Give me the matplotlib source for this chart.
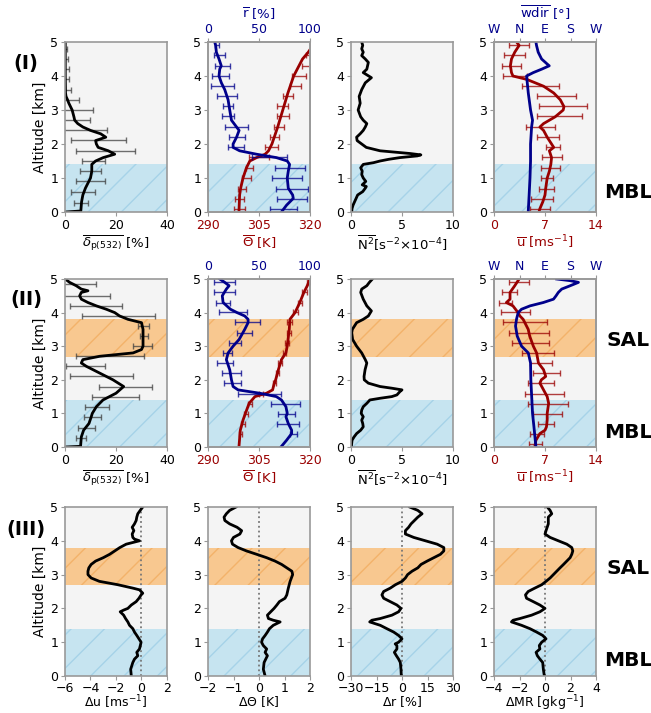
import numpy as np
import matplotlib.pyplot as plt

# ---------------- data (altitude in km) ----------------
# row I : depolarisation
dep1_alt = [0, 0.03, 0.3, 0.5, 0.7, 1.0, 1.2, 1.4, 1.5, 1.6, 1.7, 1.8, 1.9, 2.0, 2.1, 2.2, 2.3, 2.4, 2.5, 2.6,
            2.7, 2.8, 3.0, 3.2, 3.3, 3.4, 3.5, 4.0, 4.5, 5.0]
dep1 = [0.3, 6.2, 6.5, 7.0, 8.0, 10.0, 10.5, 10.5, 12.0, 15.0, 19.5, 17.0, 13.0, 12.3, 12.0, 16.0, 14.0, 10.0, 7.0, 5.0,
        3.8, 3.5, 2.8, 1.5, 1.0, 0.4, 0.2, 0.1, 0.1, 0.1]
dep1e_alt = [0.27, 0.59, 0.91, 1.2, 1.5, 1.8, 2.12, 2.42, 2.7, 3.0, 3.3, 3.6, 3.9, 4.2, 4.5, 4.8]
dep1e_mid = [6.3, 7.0, 10.0, 10.0, 11.0, 16.0, 13.0, 8.0, 3.8, 2.8, 1.0, 0.3, 0.1, 0.1, 0.1, 0.1]
dep1e = [2.8, 4.7, 5.5, 4.0, 4.5, 11.5, 10.8, 8.5, 6.0, 8.0, 4.5, 2.0, 1.5, 1.5, 1.0, 0.8]

# row I : potential temperature and relative humidity
th1_alt = [0, 0.5, 0.7, 1.0, 1.3, 1.5, 1.6, 1.7, 1.8, 2.0, 2.5, 3.0, 3.5, 4.0, 4.5, 4.7, 5.0]
th1 = [299.1, 299.3, 299.6, 300.3, 301.3, 302.3, 304.3, 306.8, 307.8, 308.8, 310.5, 312.0, 313.5, 315.2, 317.8, 319.5, 321.5]
r1_alt = [0, 0.2, 0.4, 0.5, 0.7, 1.0, 1.2, 1.4, 1.5, 1.6, 1.7, 1.8, 1.9, 2.0, 2.2, 2.4, 2.5, 2.7, 3.0, 3.3,
          3.6, 3.8, 4.0, 4.2, 4.3, 4.5, 4.7, 4.9, 5.0]
r1 = [72, 77, 83.6, 83, 78.7, 77.7, 78.7, 80, 77.7, 67, 47.5, 31, 24.6, 24.6, 28, 30.5, 28, 23, 21.3, 19.7,
      16.4, 13.1, 10.8, 11.5, 13, 10.8, 8.2, 7.5, 6.6]
e1_alt = [0.09, 0.38, 0.69, 1.0, 1.3, 1.61, 1.92, 2.21, 2.5, 2.82, 3.11, 3.41, 3.71, 4.0, 4.3, 4.62, 4.92]
r1e_mid = [74, 82.5, 82.5, 77.5, 80.5, 60, 27.5, 28.5, 28, 19.5, 19.5, 18.7, 14, 12.3, 14, 11.7, 8.7]
r1e = [13, 15, 15.5, 14.5, 14.5, 17, 8, 8, 11.5, 5.7, 5.2, 9.8, 11.3, 8.5, 7.2, 5.4, 2]
th1e_mid = [299.3, 299.3, 300.0, 301.3, 302.3, 305.0, 308.6, 309.6, 310.9, 312.0, 312.0, 313.5, 315.7, 316.7, 318.8, 319.6, 321.0]
th1e = [1.6, 1.3, 1.2, 1.2, 1.0, 3.0, 1.9, 1.4, 1.4, 1.8, 1.6, 1.4, 1.6, 2.0, 1.2, 0.9, 0.8]

# row I : N^2
n1_alt = [0, 0.1, 0.2, 0.4, 0.5, 0.6, 0.7, 0.75, 0.8, 0.9, 1.0, 1.1, 1.2, 1.3, 1.4, 1.45, 1.5, 1.55, 1.6, 1.65,
          1.68, 1.72, 1.8, 1.9, 2.0, 2.1, 2.2, 2.3, 2.4, 2.5, 2.6, 2.7, 2.8, 3.0, 3.2, 3.4, 3.6, 3.8, 3.95, 4.1,
          4.2, 4.4, 4.5, 4.6, 4.7, 4.8, 4.9, 5.0]
n1 = [0.07, 0.1, 0.2, 0.5, 0.65, 1.15, 1.4, 1.5, 1.1, 1.45, 1.2, 1.05, 1.1, 0.95, 1.2, 2.2, 2.85, 3.7, 4.8, 6.5,
      6.85, 5.8, 2.85, 1.5, 1.05, 0.6, 0.55, 0.9, 1.2, 1.4, 1.55, 1.2, 0.95, 0.7, 0.9, 0.8, 1.05, 1.4, 2.0, 1.2,
      1.55, 1.7, 1.4, 1.05, 1.2, 1.05, 1.15, 1.05]

# row I : wind speed and direction
u1_alt = [0, 0.1, 0.3, 0.5, 0.7, 1.0, 1.2, 1.4, 1.6, 1.8, 1.9, 2.0, 2.2, 2.4, 2.5, 2.6, 2.8, 3.0, 3.1, 3.3,
          3.5, 3.7, 3.9, 4.0, 4.1, 4.3, 4.5, 4.7, 4.9, 5.0]
u1 = [6.17, 6.3, 6.7, 7.0, 7.1, 7.3, 7.6, 7.8, 7.9, 7.6, 8.2, 7.9, 7.3, 6.8, 6.3, 6.8, 8.4, 9.5, 9.6, 9.1,
      8.2, 6.8, 4.5, 2.6, 2.4, 2.25, 2.4, 2.85, 3.45, 3.1]
u1e_mid = [6.35, 6.6, 7.2, 7.3, 7.8, 8.0, 8.1, 7.4, 6.35, 9.0, 9.5, 8.6, 6.4, 2.9, 2.4, 2.8, 3.45]
u1e = [1.35, 1.55, 1.0, 0.8, 1.3, 1.35, 1.0, 1.55, 2.0, 3.1, 3.3, 2.7, 2.5, 1.6, 1.3, 1.4, 1.35]
wd1_alt = [0, 0.5, 1.0, 1.5, 2.0, 2.5, 2.7, 3.0, 3.5, 4.0, 4.1, 4.2, 4.3, 4.35, 4.5, 4.7, 4.9, 5.0]
wd1 = [30.8, 34, 37, 39, 39, 42.7, 46, 39, 31, 25, 48.6, 78, 105, 98, 78, 66, 60, 58]

# row II : depolarisation
dep2_alt = [0, 0.02, 0.3, 0.5, 0.7, 0.9, 1.0, 1.2, 1.4, 1.6, 1.8, 2.0, 2.2, 2.4, 2.5, 2.6, 2.7, 2.8, 2.9, 3.0,
            3.5, 3.7, 3.8, 3.9, 4.0, 4.1, 4.2, 4.3, 4.4, 4.5, 4.6, 4.65, 4.7, 4.8, 4.9, 5.0]
dep2 = [0.3, 6.1, 6.4, 7.3, 9.4, 10.3, 10.7, 12.3, 14.9, 20, 23, 18.8, 13.6, 8.4, 6.4, 7, 13.6, 26.7, 30, 30.6,
        30.6, 30, 24.7, 21.4, 19.5, 16.2, 12.3, 9, 6.4, 5.75, 6.4, 9, 6.4, 4.4, 1.8, 0.1]
dep2e_alt = [0.28, 0.58, 0.89, 1.2, 1.5, 1.79, 2.1, 2.4, 2.7, 3.0, 3.29, 3.59, 3.9, 4.2, 4.5, 4.86]
dep2e_mid = [6.3, 8.5, 10.8, 12.4, 19.8, 23.8, 14.2, 8.0, 17.5, 30.5, 30.9, 30.8, 21.1, 12.3, 5.75, 3.0]
dep2e = [1.85, 3.4, 3.5, 4.7, 9.3, 10.5, 12.4, 7.8, 13.3, 3.8, 1.6, 2.2, 14.3, 10.2, 11.75, 9.3]

# row II : potential temperature and relative humidity
th2_alt = [0, 0.5, 0.8, 1.0, 1.3, 1.5, 1.6, 1.7, 1.9, 2.0, 2.3, 2.6, 2.8, 3.0, 3.5, 3.8, 4.0, 4.3, 4.6, 4.8, 5.0]
th2 = [299.1, 299.5, 300.3, 301.0, 302.1, 303.8, 307.2, 309.0, 309.5, 309.9, 310.7, 311.6, 312.9, 313.3, 313.9,
       314.1, 315.6, 317.0, 318.2, 319.2, 320.0]
r2_alt = [0, 0.2, 0.4, 0.5, 0.7, 0.9, 1.0, 1.2, 1.4, 1.5, 1.6, 1.7, 1.8, 2.0, 2.3, 2.6, 2.8, 3.0, 3.2, 3.5,
          3.7, 3.8, 3.9, 4.0, 4.1, 4.3, 4.5, 4.7, 4.8, 4.9, 5.0]
r2 = [71.5, 77, 82, 82, 78.7, 76.4, 77.7, 76.4, 72, 67, 50.8, 29.5, 24.6, 23, 21.3, 18, 19.7, 24.6, 30.5, 36,
      39.3, 39.3, 36, 28.5, 22, 14.8, 14, 18, 20.7, 16.4, 11.5]
e2_alt = [0.4, 0.69, 0.99, 1.29, 1.58, 1.89, 2.19, 2.5, 2.79, 3.1, 3.4, 3.71, 4.01, 4.3, 4.6, 4.9]
r2e_mid = [84, 78.7, 77, 76, 50.8, 24, 23.3, 17, 19.3, 26.7, 36, 38.8, 24.3, 14.8, 16, 16]
r2e = [3.7, 10.8, 8, 14.6, 21, 8.2, 9.5, 7.7, 4.6, 6.1, 7.5, 12.6, 13.5, 7.2, 10.2, 10]
th2e_mid = [299.6, 300.3, 301.2, 302.4, 305.5, 309.6, 310.4, 311.2, 312.6, 313.2, 313.7, 314.0, 315.7, 317.0, 318.3, 319.5]
th2e = [0.4, 0.5, 0.5, 0.6, 0.6, 0.5, 0.4, 0.5, 0.4, 0.6, 0.6, 0.7, 0.7, 0.6, 0.8, 0.5]

# row II : N^2
n2_alt = [0, 0.2, 0.3, 0.4, 0.5, 0.6, 0.7, 0.8, 0.9, 1.0, 1.1, 1.2, 1.3, 1.4, 1.45, 1.5, 1.55, 1.6, 1.65, 1.7,
          1.75, 1.8, 1.9, 2.0, 2.1, 2.3, 2.5, 2.6, 2.8, 3.0, 3.2, 3.4, 3.5, 3.7, 3.8, 3.9, 4.05, 4.2, 4.4, 4.6,
          4.7, 4.8, 4.9, 5.0]
n2 = [0.03, 0.1, 0.3, 0.55, 0.95, 1.2, 1.15, 1.05, 1.2, 1.0, 1.05, 1.2, 1.55, 1.85, 2.85, 4.0, 4.5, 4.65, 4.8, 5.0,
      4.0, 2.85, 1.7, 1.3, 1.28, 1.38, 1.55, 1.4, 1.05, 0.55, 0.16, 0.07, 0.13, 0.55, 1.2, 1.7, 2.0, 1.55, 1.2, 0.95,
      1.05, 1.55, 1.8, 2.1]

# row II : wind speed and direction
u2_alt = [0, 0.2, 0.4, 0.5, 0.6, 0.8, 1.0, 1.3, 1.5, 1.7, 1.9, 2.0, 2.1, 2.3, 2.5, 2.8, 3.0, 3.3, 3.5, 3.8,
          3.9, 4.0, 4.2, 4.3, 4.4, 4.6, 4.8, 5.0]
u2 = [5.6, 5.75, 6.3, 7.0, 7.2, 7.3, 7.3, 7.5, 7.3, 6.8, 6.3, 6.5, 7.1, 6.8, 6.1, 5.85, 5.4, 4.9, 4.7, 4.0,
      3.55, 3.3, 2.6, 1.7, 2.2, 2.2, 2.85, 3.45]
u2e_alt = [0.09, 0.4, 0.69, 0.99, 1.29, 1.58, 1.89, 2.19, 2.5, 2.79, 3.1, 3.4, 3.71, 4.01, 4.3, 4.6, 4.9]
u2e_mid = [5.65, 5.85, 7.1, 7.35, 7.4, 6.9, 6.45, 7.2, 6.5, 6.1, 5.0, 4.8, 4.25, 2.9, 1.6, 2.1, 3.45]
u2e = [0.9, 0.95, 1.1, 2.05, 2.8, 2.65, 1.85, 1.9, 1.5, 2.2, 2.5, 2.7, 3.0, 2.0, 0.9, 1.0, 1.4]
wd2_alt = [0, 0.3, 0.6, 1.0, 1.5, 2.0, 2.5, 2.8, 3.0, 3.3, 3.6, 3.8, 4.0, 4.1, 4.2, 4.3, 4.4, 4.5, 4.6, 4.7,
           4.8, 4.9, 4.95, 5.0]
wd2 = [58, 54.5, 51, 46, 43, 40, 39, 31, 7.3, -8, -14, -10.6, -4.7, 7, 37, 84, 120, 129, 137, 149,
       179, 208, 179, 131]

# row III : differences
du_alt = [0, 0.2, 0.4, 0.5, 0.6, 0.7, 0.8, 1.0, 1.1, 1.2, 1.3, 1.4, 1.5, 1.6, 1.7, 1.8, 1.9, 1.95, 2.0, 2.1,
          2.2, 2.3, 2.4, 2.45, 2.55, 2.6, 2.7, 2.8, 2.9, 3.0, 3.1, 3.2, 3.3, 3.4, 3.5, 3.6, 3.7, 3.8, 3.9, 4.0,
          4.05, 4.1, 4.2, 4.3, 4.4, 4.5, 4.6, 4.7, 4.8, 4.9, 5.0]
du = [-0.8, -0.85, -0.68, -0.55, -0.29, -0.37, -0.16, -0.03, -0.2, -0.37, -0.55, -0.68, -0.94, -1.07, -1.25, -1.4,
      -1.67, -1.4, -1.07, -0.8, -0.42, -0.2, -0.03, 0.1, -0.16, -0.68, -1.85, -3.3, -3.95, -4.2, -4.2, -4.13, -3.95,
      -3.6, -3.0, -2.5, -2.1, -1.7, -1.2, -0.16, -0.55, -0.68, -0.73, -0.6, -0.73, -0.55, -0.42, -0.37, -0.29, -0.1, 0.1]
dth_alt = [0, 0.2, 0.4, 0.6, 0.7, 0.8, 0.9, 1.0, 1.1, 1.2, 1.3, 1.4, 1.5, 1.6, 1.65, 1.7, 1.8, 1.9, 2.0, 2.1,
           2.2, 2.3, 2.4, 2.6, 2.8, 3.0, 3.1, 3.2, 3.3, 3.4, 3.5, 3.6, 3.7, 3.8, 3.9, 4.0, 4.1, 4.2, 4.3, 4.4,
           4.5, 4.6, 4.7, 4.8, 4.9, 5.0]
dth = [0.24, 0.17, 0.2, 0.33, 0.24, 0.3, 0.17, 0.1, 0.14, 0.24, 0.33, 0.41, 0.56, 0.83, 0.56, 0.37, 0.33, 0.46, 0.59,
       0.7, 0.8, 1.02, 1.09, 1.15, 1.22, 1.32, 1.29, 1.09, 0.89, 0.63, 0.3, -0.09, -0.49, -0.82, -1.04, -1.08, -1.0,
       -0.75, -0.68, -0.86, -1.15, -1.34, -1.37, -1.28, -1.15, -0.9]
dr_alt = [0, 0.2, 0.4, 0.5, 0.6, 0.7, 0.8, 0.9, 0.95, 1.0, 1.1, 1.2, 1.3, 1.4, 1.5, 1.6, 1.65, 1.7, 1.8, 1.9,
          2.0, 2.1, 2.2, 2.3, 2.4, 2.5, 2.6, 2.7, 2.8, 2.9, 3.0, 3.1, 3.2, 3.3, 3.4, 3.5, 3.6, 3.7, 3.8, 3.9,
          4.0, 4.1, 4.2, 4.3, 4.4, 4.5, 4.6, 4.7, 4.8, 4.9, 5.0]
dr = [-0.4, -0.6, -1, -2, -3.3, -4.5, -3, -3, -4, -2, 0, -2, -4.9, -8.9, -12.8, -19, -17.7, -12.8, -5.9, -2,
      -0.6, -3, -6.9, -10.8, -11.8, -10.8, -6.9, -3.9, 0, 2, 3.3, 5.9, 9.3, 11.2, 14.8, 18.7, 22.6, 24.6, 24.6, 20.7,
      13.8, 6.9, 2, 2, 3.9, 5.3, 7.3, 9.3, 11.8, 9.3, 4.5]
dmr_alt = [0, 0.2, 0.4, 0.5, 0.6, 0.7, 0.8, 0.9, 1.0, 1.1, 1.2, 1.3, 1.4, 1.5, 1.6, 1.65, 1.7, 1.8, 1.9, 2.0,
           2.1, 2.2, 2.3, 2.4, 2.5, 2.6, 2.7, 2.8, 2.9, 3.0, 3.1, 3.2, 3.3, 3.4, 3.5, 3.6, 3.7, 3.8, 3.9, 4.0,
           4.1, 4.2, 4.3, 4.5, 4.7, 4.8, 4.9, 5.0]
dmr = [-0.05, -0.13, -0.18, -0.4, -0.6, -0.7, -0.4, -0.45, -0.26, 0.08, -0.18, -0.66, -1.18, -1.84, -2.63, -2.5,
       -1.97, -1.05, -0.4, 0, -0.4, -0.92, -1.45, -1.53, -1.32, -0.8, -0.26, 0.08, 0.4, 0.66, 0.92, 1.18, 1.45, 1.71,
       1.97, 2.1, 2.18, 2.1, 1.71, 1.05, 0.4, 0, 0.08, 0.26, 0.26, 0.53, 0.4, 0.18]

MBL = (0, 1.4)
SAL = (2.68, 3.8)

RED = '#990000'
BLUE = '#00008b'
GREY = '#999999'

fig = plt.figure(figsize=(6.51, 7.13), dpi=100)
W, H = 651, 713


def panel(left, top, bottom, sal=False):
    ax = fig.add_axes([left / W, 1 - bottom / H, 102 / W, (bottom - top) / H])
    ax.set_facecolor('#f4f4f4')
    ax.set_ylim(0, 5)
    ax.set_yticks(range(6))
    ax.axhspan(*MBL, facecolor='#c6e4f0', edgecolor='#a6d3e8', hatch='/', lw=0, zorder=0)
    if sal:
        ax.axhspan(*SAL, facecolor='#f8c890', edgecolor='#f3b26a', hatch='/', lw=0, zorder=0)
    for s in ax.spines.values():
        s.set_color(GREY)
        s.set_linewidth(1.2)
    ax.tick_params(color=GREY, labelsize=9, length=3, pad=2)
    return ax


def twin_top(ax, lim, ticks, labels=None):
    t = ax.twiny()
    t.set_xlim(*lim)
    t.set_xticks(ticks)
    if labels is not None:
        t.set_xticklabels(labels)
    t.tick_params(color=GREY, labelsize=9, length=3, pad=1, labelcolor=BLUE)
    for s in t.spines.values():
        s.set_color(GREY)
        s.set_linewidth(1.2)
    return t


def ebar(ax, mid, alt, err, col):
    ax.errorbar(mid, alt, xerr=err, fmt='none', ecolor=col, elinewidth=1.0,
                capsize=2, capthick=1.0, alpha=0.75)


lefts = [65, 208, 351, 494]
rows = [(42, 212), (279, 447), (507, 676)]
lab_dep = r'$\overline{\delta_{\mathrm{p(532)}}}$ [%]'
lab_th = r'$\overline{\Theta}$ [K]'
lab_n2 = r'$\overline{\mathrm{N}^2}$[s$^{-2}$$\times$10$^{-4}$]'
lab_u = r'$\overline{\mathrm{u}}$ [ms$^{-1}$]'

profiles = [
    (dep1_alt, dep1, dep1e_alt, dep1e_mid, dep1e, th1_alt, th1, r1_alt, r1, e1_alt, th1e_mid, th1e, r1e_mid, r1e,
     n1_alt, n1, u1_alt, u1, e1_alt, u1e_mid, u1e, wd1_alt, wd1, False),
    (dep2_alt, dep2, dep2e_alt, dep2e_mid, dep2e, th2_alt, th2, r2_alt, r2, e2_alt, th2e_mid, th2e, r2e_mid, r2e,
     n2_alt, n2, u2_alt, u2, u2e_alt, u2e_mid, u2e, wd2_alt, wd2, True),
]

for i, p in enumerate(profiles):
    (da, dv, dea, dem, de, ta, tv, ra, rv, ea, tem, te, rem, re_,
     na, nv, ua, uv, uea, uem, ue, wa, wv, sal) = p
    top, bot = rows[i]

    ax = panel(lefts[0], top, bot, sal)
    ebar(ax, dem, dea, de, '#404040')
    ax.plot(dv, da, color='k', lw=2)
    ax.set_xlim(0, 40)
    ax.set_xticks([0, 20, 40])
    ax.set_xlabel(lab_dep, fontsize=9.5, labelpad=1)
    ax.set_ylabel('Altitude [km]', fontsize=10, labelpad=2)

    ax = panel(lefts[1], top, bot, sal)
    ebar(ax, tem, ea[:len(tem)], te, RED)
    ax.plot(tv, ta, color=RED, lw=2)
    ax.set_xlim(290, 320)
    ax.set_xticks([290, 305, 320])
    ax.tick_params(axis='x', labelcolor=RED)
    ax.set_xlabel(lab_th, fontsize=9.5, color=RED, labelpad=1)
    t = twin_top(ax, (0, 100), [0, 50, 100])
    ebar(t, rem, ea[:len(rem)], re_, BLUE)
    t.plot(rv, ra, color=BLUE, lw=2)
    if i == 0:
        t.set_xlabel(r'$\overline{\mathrm{r}}$ [%]', fontsize=9.5, color=BLUE, labelpad=3)

    ax = panel(lefts[2], top, bot, sal)
    ax.plot(nv, na, color='k', lw=2)
    ax.set_xlim(0, 10)
    ax.set_xticks([0, 5, 10])
    ax.set_xlabel(lab_n2, fontsize=9.5, labelpad=1)

    ax = panel(lefts[3], top, bot, sal)
    ebar(ax, uem, uea, ue, RED)
    ax.plot(uv, ua, color=RED, lw=2)
    ax.set_xlim(0, 14)
    ax.set_xticks([0, 7, 14])
    ax.tick_params(axis='x', labelcolor=RED)
    ax.set_xlabel(lab_u, fontsize=9.5, color=RED, labelpad=1)
    t = twin_top(ax, (-90, 270), [-90, 0, 90, 180, 270], ['W', 'N', 'E', 'S', 'W'])
    t.plot(wv, wa, color=BLUE, lw=2)
    if i == 0:
        t.set_xlabel(r'$\overline{\mathrm{wdir}}$ [°]', fontsize=9.5, color=BLUE, labelpad=3)

# row III
diffs = [
    (du_alt, du, (-6, 2), [-6, -4, -2, 0, 2], r'$\Delta$u [ms$^{-1}$]'),
    (dth_alt, dth, (-2, 2), [-2, -1, 0, 1, 2], r'$\Delta\Theta$ [K]'),
    (dr_alt, dr, (-30, 30), [-30, -15, 0, 15, 30], r'$\Delta$r [%]'),
    (dmr_alt, dmr, (-4, 4), [-4, -2, 0, 2, 4], r'$\Delta$MR [gkg$^{-1}$]'),
]
top, bot = rows[2]
for j, (a, v, lim, ticks, lab) in enumerate(diffs):
    ax = panel(lefts[j], top, bot, True)
    ax.axvline(0, color='#777777', ls=':', lw=1.3)
    ax.plot(v, a, color='k', lw=2)
    ax.set_xlim(*lim)
    ax.set_xticks(ticks)
    ax.tick_params(axis='x', pad=1.5)
    ax.set_xlabel(lab, fontsize=9, labelpad=-1)
    if j == 0:
        ax.set_ylabel('Altitude [km]', fontsize=10, labelpad=2)

# panel tags and layer names
for txt, y in [('(I)', 63), ('(II)', 300), ('(III)', 530)]:
    fig.text(26 / W, 1 - y / H, txt, fontsize=14, fontweight='bold', ha='center', va='center')
for txt, y in [('MBL', 193), ('SAL', 340), ('MBL', 432), ('SAL', 569), ('MBL', 660)]:
    fig.text(628 / W, 1 - y / H, txt, fontsize=14.5, fontweight='bold', ha='center', va='center')

fig.savefig('out.png', dpi=100)
